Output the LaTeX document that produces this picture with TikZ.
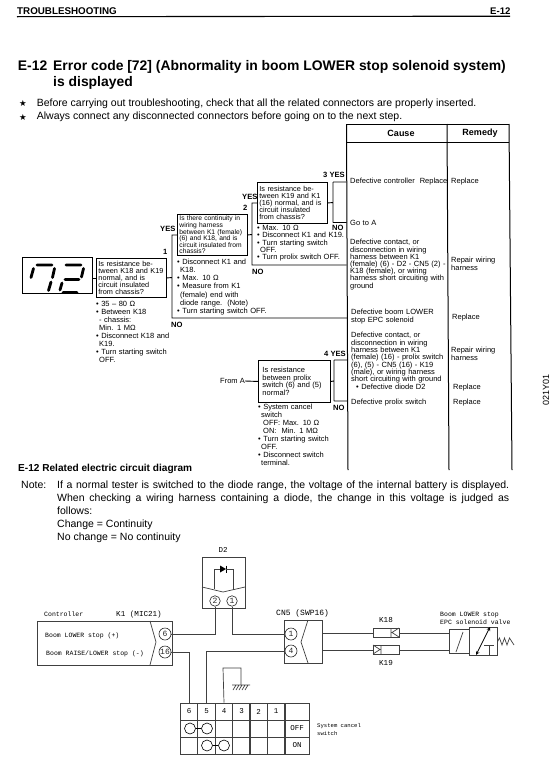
\documentclass[tikz,border=0pt]{standalone}
\usepackage{fontspec}
\setmainfont{Liberation Sans}
\newfontfamily\starfont{DejaVu Sans}
\newfontfamily\wirefont{Liberation Mono}
\newcommand\fs[2]{\fontsize{#1}{#2}\selectfont}
\tikzset{
  x=1pt,y=-1pt,
  plain/.style={anchor=base west,inner sep=0pt},
  small/.style={anchor=north west,inner sep=0pt,text width=130pt,align=left,font=\fs{7.5}{7.3}},
  lab/.style={anchor=base west,inner sep=0pt,font=\bfseries\fs{7.6}{8}},
  qbox/.style={draw,line width=0.9pt,anchor=north west,inner xsep=2pt,inner ysep=0pt,align=left},
  flow/.style={line width=0.9pt},
  wire/.style={line width=0.7pt,black!75},
  wt/.style={anchor=base west,inner sep=0pt,font=\wirefont\fs{6.5}{8}},
  pin/.style={draw,circle,minimum size=12pt,inner sep=0pt,line width=0.6pt,font=\wirefont\fs{8}{8},black!85},
  sw/.style={draw,circle,minimum size=11pt,inner sep=0pt,line width=0.6pt},
  cellb/.style={draw,line width=0.6pt,black!75,minimum height=17pt,minimum width=17.5pt,inner sep=0pt,text=black,font=\wirefont\fs{7.5}{8}},
  seg/.style={line width=2.8pt,line cap=round},
  thinb/.style={line width=0.7pt,black!85}
}
\begin{document}
\begin{tikzpicture}
\useasboundingbox (0,0) rectangle (550,763);
\fill[white] (0,0) rectangle (550,763);
% header
\node[plain,font=\bfseries\fs{9.8}{10}] (hd) at (17,14) {TROUBLESHOOTING};
\node[plain,font=\bfseries\fs{9.6}{10}] (hp) at (490,14) {E-12};
\coordinate (rl) at (17,16.7); \coordinate (rr) at (510,16.2);
\draw[line width=1.1pt] (rl) -- (rr);
% title
\node[plain,font=\bfseries\fs{13.9}{16}] (t0) at (17.7,70.5) {E-12};
\node[plain,font=\bfseries\fs{13.9}{16}] (t1) at (53,70.5) {Error code [72] (Abnormality in boom LOWER stop solenoid system)};
\node[plain,font=\bfseries\fs{13.9}{16}] (t2) at (53,86) {is displayed};
\node[plain,font=\starfont\fs{8.5}{10}] (st1) at (19,106.5) {★};
\node[plain,font=\starfont\fs{8.5}{10}] (st2) at (19,120) {★};
\node[plain,font=\fs{10.5}{12}] (b1) at (36.7,106) {Before carrying out troubleshooting, check that all the related connectors are properly inserted.};
\node[plain,font=\fs{10.5}{12}] (b2) at (36.7,119.5) {Always connect any disconnected connectors before going on to the next step.};
% table
\draw[line width=1pt] (346.5,124) -- (509,124);
\draw[line width=1pt] (346.5,142) -- (509,142);
\draw[line width=1pt] (346.5,124) -- (348,470);
\draw[line width=1pt] (447,124) -- (449,470);
\draw[line width=1pt] (509,124) -- (512,470);
\node[font=\bfseries\fs{9}{10},inner sep=0pt] (cause) at (401,133) {Cause};
\node[font=\bfseries\fs{9}{10},inner sep=0pt] (remedy) at (480,133) {Remedy};
% display
\node[draw,line width=0.9pt,anchor=north west,minimum width=70pt,minimum height=36pt,inner sep=0pt] (disp) at (21.5,257) {};
\draw[seg] (37,265) -- (52,265) (33.5,268.5) -- (31,277.5) (54.5,268.5) -- (52.5,277.5) (51,282) -- (48.5,290.5);
\draw[seg] (66,265) -- (81,265) (83.5,268.5) -- (81.5,277) (65,279.5) -- (79,279.5) (62,283) -- (60,290) (63,292.5) -- (77,292.5);
% question boxes
\node[qbox,minimum width=70pt,minimum height=39pt,text width=66pt,font=\fs{7.3}{7.2}] (q1) at (96,258) {Is resistance be-\\tween K18 and K19\\normal, and is\\circuit insulated\\from chassis?};
\node[qbox,minimum width=70pt,minimum height=41pt,text width=66pt,font=\fs{6.7}{6.6}] (q2) at (177,214) {Is there continuity in\\wiring harness\\between K1 (female)\\(6) and K18, and is\\circuit insulated from\\chassis?};
\node[qbox,minimum width=70pt,minimum height=41pt,text width=66pt,font=\fs{7.3}{7.2}] (q3) at (257,182) {Is resistance be-\\tween K19 and K1\\(16) normal, and is\\circuit insulated\\from chassis?};
\node[qbox,minimum width=70pt,minimum height=42pt,text width=64pt,inner xsep=4pt,font=\fs{7.5}{7.6}] (q4) at (258,360) {Is resistance\\between prolix\\switch (6) and (5)\\normal?};
% flow coordinates
\coordinate (j1) at (172,277.5);
\coordinate (j1b) at (172,318);
\coordinate (e1) at (346.8,318);
\coordinate (j2) at (252,234.5);
\coordinate (j2b) at (252,265);
\coordinate (e2) at (346.6,265);
\coordinate (j3) at (333,202.5);
\coordinate (j3t) at (333,182);
\coordinate (j3b) at (333,222.5);
\coordinate (e3t) at (346.5,182);
\coordinate (e3b) at (346.6,222.5);
\coordinate (j4) at (334,381);
\coordinate (j4t) at (334,360);
\coordinate (j4b) at (334,401);
\coordinate (e4t) at (347,360);
\coordinate (e4b) at (347.2,401);
\coordinate (fa) at (245,381);
\draw[flow] (disp.east |- q1.west) -- (q1.west);
\draw[flow] (q1.east) -- (j1) (q2.west) -| (j1) -- (j1b) -- (e1);
\draw[flow] (q2.east) -- (j2) (q3.west) -| (j2) -- (j2b) -- (e2);
\draw[flow] (q3.east) -- (j3) (j3t) -- (j3b) (e3t) -- (j3t) (j3b) -- (e3b);
\draw[flow] (q4.east) -- (j4) (j4t) -- (j4b) (e4t) -- (j4t) (j4b) -- (e4b);
\draw[flow] (fa) -- (q4.west);
\node[plain,font=\fs{7.5}{8}] (froma) at (220,383.5) {From A};
% flow labels
\node[lab] (l1) at (163,254.5) {1};
\node[lab] (y1) at (160,231.5) {YES};
\node[lab] (l2) at (243,210.5) {2};
\node[lab] (y2) at (242,199.5) {YES};
\node[lab] (y3) at (323,177.5) {3 YES};
\node[lab] (n1) at (171,327.5) {NO};
\node[lab] (n2) at (252,274.5) {NO};
\node[lab] (n3) at (332,230.5) {NO};
\node[lab] (y4) at (324,356.5) {4 YES};
\node[lab] (n4) at (333,410) {NO};
% notes under boxes
\node[small,font=\fs{7.5}{8}] (m1) at (96,301) {• 35 – 80 Ω\\• Between K18\\\hspace*{3pt}- chassis:\\\hspace*{3pt}Min. 1 MΩ\\• Disconnect K18 and\\\hspace*{3pt}K19.\\• Turn starting switch\\\hspace*{3pt}OFF.};
\node[small,font=\fs{7.5}{8.1}] (m2) at (177,259) {• Disconnect K1 and\\\hspace*{3pt}K18.\\• Max. 10 Ω\\• Measure from K1\\\hspace*{3pt}(female) end with\\\hspace*{3pt}diode range.\ \ (Note)\\• Turn starting switch OFF.};
\node[small] (m3) at (257,225) {• Max. 10 Ω\\• Disconnect K1 and K19.\\• Turn starting switch\\\hspace*{3pt}OFF.\\• Turn prolix switch OFF.};
\node[small,font=\fs{7.5}{8}] (m4) at (258,404) {• System cancel\\\hspace*{3pt}switch\\\hspace*{5pt}OFF: Max. 10 Ω\\\hspace*{5pt}ON:\ \ Min. 1 MΩ\\• Turn starting switch\\\hspace*{3pt}OFF.\\• Disconnect switch\\\hspace*{3pt}terminal.};
% causes
\node[small] (c1) at (350,178.3) {Defective controller\ \ Replace};
\node[small] (c2) at (350,220.3) {Go to A};
\node[small,font=\fs{7.5}{7.2}] (c3) at (350,239.3) {Defective contact, or\\disconnection in wiring\\harness between K1\\(female) (6) - D2 - CN5 (2) -\\K18 (female), or wiring\\harness short circuiting with\\ground};
\node[small,font=\fs{7.5}{8}] (c4) at (351,309.3) {Defective boom LOWER\\stop EPC solenoid};
\node[small,font=\fs{7.5}{7.3}] (c5) at (351,332.3) {Defective contact, or\\disconnection in wiring\\harness between K1\\(female) (16) - prolix switch\\(6), (5) - CN5 (16) - K19\\(male), or wiring harness\\short circuiting with ground\\\hspace*{5pt}• Defective diode D2};
\node[small] (c6) at (351,399.3) {Defective prolix switch};
% remedies
\node[small,text width=60pt] (r1) at (451,178.3) {Replace};
\node[small,text width=60pt,font=\fs{7.5}{8}] (r2) at (451,257.3) {Repair wiring\\harness};
\node[small,text width=60pt] (r3) at (452,314.3) {Replace};
\node[small,text width=60pt,font=\fs{7.5}{8}] (r4) at (451,347.3) {Repair wiring\\harness};
\node[small,text width=50pt] (r5) at (453,384.3) {Replace};
\node[small,text width=50pt] (r6) at (453,399.3) {Replace};
% side code
\node[rotate=90,font=\fs{9}{10},inner sep=0pt] (code) at (546,390) {021Y01};
% note
\node[plain,font=\bfseries\fs{10.1}{11}] (rel) at (18,471.7) {E-12 Related electric circuit diagram};
\node[plain,font=\fs{10.5}{12}] (nt) at (21,488) {Note:};
\node[plain,font=\fs{10.5}{12}] (n1a) at (57,488) {\makebox[452pt][s]{If a normal tester is switched to the diode range, the voltage of the internal battery is displayed.}};
\node[plain,font=\fs{10.5}{12}] (n1b) at (57,501) {\makebox[452pt][s]{When checking a wiring harness containing a diode, the change in this voltage is judged as}};
\node[plain,font=\fs{10.5}{12}] (n1c) at (57,514) {follows:};
\node[plain,font=\fs{10.5}{12}] (n1d) at (57,527) {Change = Continuity};
\node[plain,font=\fs{10.5}{12}] (n1e) at (57,540) {No change = No continuity};
% D2
\node[wt,anchor=center,font=\wirefont\fs{7.5}{8}] (d2l) at (223,550) {D2};
\node[draw,wire,anchor=north west,minimum width=43pt,minimum height=51pt,inner sep=0pt] (d2) at (202,557) {};
\coordinate (dl) at (202,587); \coordinate (dm) at (223,592); \coordinate (dr) at (245,587);
\draw[wire] (dl) -- (dm) -- (dr);
\node[pin,minimum size=10.5pt] (d2a) at (215,601) {2};
\node[pin,minimum size=10.5pt] (d2b) at (232,601) {1};
\coordinate (lp1) at (214,588.5); \coordinate (lp2) at (233,589.5);
\coordinate (dt1) at (220,569); \coordinate (dt2) at (226,569);
\fill (220,565.5) -- (220,572.5) -- (226,569) -- cycle;
\draw[line width=0.9pt] (226.3,565.5) -- (226.3,572.5);
\draw[wire] (lp1) |- (dt1) (dt2) -| (lp2);
% controller
\node[draw,wire,anchor=north west,minimum width=135pt,minimum height=44pt,inner sep=0pt] (ctl) at (37,621) {};
\draw[wire] (150,621) -- (156,642) -- (150,665);
\node[pin] (k6) at (165,634) {6};
\node[pin] (k16) at (165,652) {16};
\node[wt] (ct) at (44,616) {Controller};
\node[wt,font=\wirefont\fs{7.6}{8}] (k1) at (116,616) {K1 (MIC21)};
\node[wt] (bl) at (45,637.5) {Boom LOWER stop (+)};
\node[wt] (br) at (46,655.5) {Boom RAISE/LOWER stop (-)};
% CN5
\node[draw,wire,anchor=north west,minimum width=38pt,minimum height=43pt,inner sep=0pt] (cn) at (284,620) {};
\draw[wire] (308,620) -- (301,642) -- (308,663);
\node[pin] (p1) at (291,634) {1};
\node[pin] (p4) at (291,651) {4};
\node[wt,font=\wirefont\fs{8}{8}] (cnl) at (276,615.5) {CN5 (SWP16)};
% K18 K19
\node[draw,wire,anchor=north west,minimum width=26pt,minimum height=9pt,inner sep=0pt] (k18) at (373,628) {};
\node[draw,wire,anchor=north west,minimum width=26pt,minimum height=9pt,inner sep=0pt] (k19) at (373,645) {};
\draw[wire] (391,628) -- (391,637) (399,628) -- (392,632.5) -- (399,637);
\draw[wire] (381,645) -- (381,654) (373,645) -- (380,649.5) -- (373,654);
\node[wt,anchor=center,font=\wirefont\fs{7.6}{8}] (k18l) at (386,620) {K18};
\node[wt,anchor=center,font=\wirefont\fs{7.6}{8}] (k19l) at (386,663) {K19};
% valve
\node[draw,wire,anchor=north west,minimum width=20pt,minimum height=24pt,inner sep=0pt] (sol) at (449,629) {};
\node[draw,wire,anchor=north west,minimum width=28pt,minimum height=28pt,inner sep=0pt] (val) at (469,627) {};
\draw[wire] (463,632) -- (456,652);
\draw[wire,black,<->,>=stealth] (476,655) -- (490,627);
\draw[wire] (489,655) -- (489,645) (484,645) -- (494,645);
\coordinate (s0) at (val.east);
\draw[wire] (s0) -- (499.5,638) -- (502,645) -- (504.5,638) -- (507,645) -- (509.5,638) -- (514,645);
\node[wt] (v1) at (440,616) {Boom LOWER stop};
\node[wt] (v2) at (440,624.5) {EPC solenoid valve};
% switch table
\foreach \n/\x in {6/189,5/206.5,4/224,3/241.5,2/258.5,1/276}{
  \node[cellb] (h\n) at (\x,711.5) {\n};
  \node[cellb] (a\n) at (\x,728.5) {};
  \node[cellb] (b\n) at (\x,745.5) {};
}
\node[cellb,minimum width=24pt] (hx) at (297,711.5) {};
\node[cellb,minimum width=24pt] (off) at (297,728.5) {OFF};
\node[cellb,minimum width=24pt] (on) at (297,745.5) {ON};
\node[sw] (s1) at (190,728.5) {};
\node[sw] (s2) at (207,728.5) {};
\node[sw] (s3) at (207,745.5) {};
\node[sw] (s4) at (224,745.5) {};
\draw[line width=0.6pt] (s1) -- (s2) (s3) -- (s4);
\node[wt,font=\wirefont\fs{5.6}{8}] (sc1) at (317,727) {System cancel};
\node[wt,font=\wirefont\fs{5.6}{8}] (sc2) at (317,735) {switch};
% ground
\coordinate (g0) at (223,668); \coordinate (g1) at (241,668); \coordinate (g2) at (241,685);
\draw[wire] (h4.north) -- (g0) -- (g1) -- (g2);
\draw[wire] (232,685) -- (250,685) (236,685) -- (233,690) (239,685) -- (236,690) (242,685) -- (239,690) (245,685) -- (242,690) (248,685) -- (245,690);
% wires
\draw[wire] (d2a.south) |- (k6.east);
\draw[wire] (d2b.south) |- (p1.west);
\draw[wire] (k16.east) -| (h6.north);
\draw[wire] (h5.north) |- (p4.west);
\draw[wire] (k18.west) -- (k18.west -| cn.east);
\draw[wire] (k19.west) -- (k19.west -| cn.east);
\draw[wire] (k18.east) -- (k18.east -| sol.west);
\draw[wire] (k19.east) -- (k19.east -| sol.west);
\end{tikzpicture}
\end{document}
